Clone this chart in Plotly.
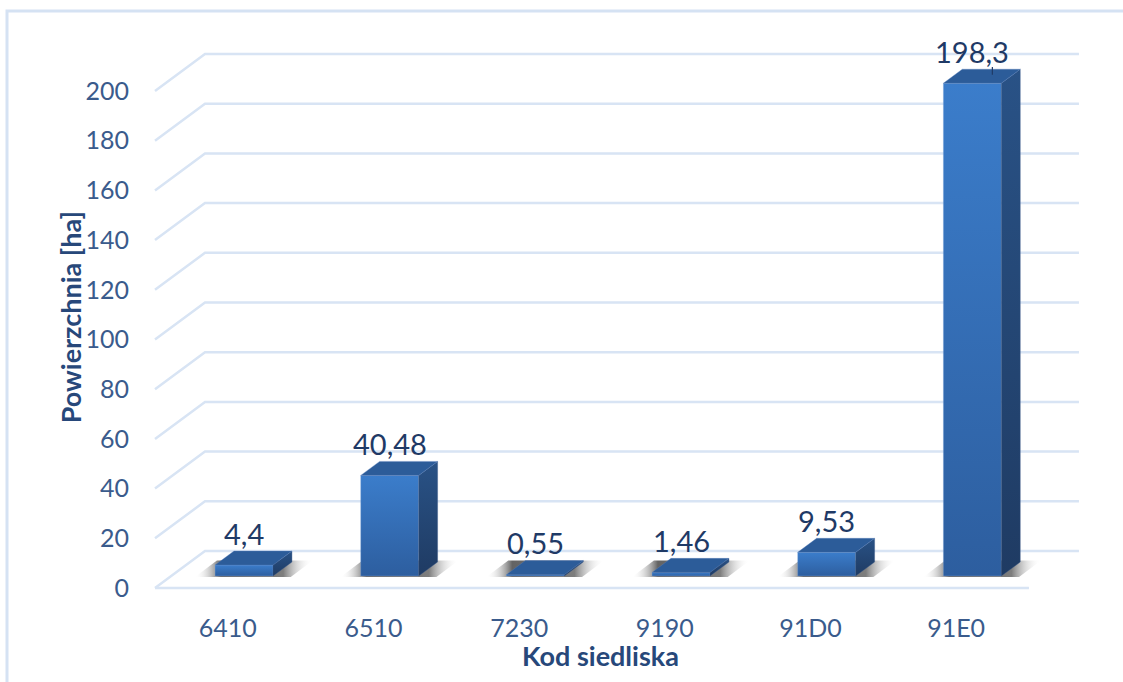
import plotly.graph_objects as go

# Habitat codes and their area in hectares
categories = ["6410", "6510", "7230", "9190", "91D0", "91E0"]
values = [4.4, 40.48, 0.55, 1.46, 9.53, 198.3]
value_labels = ["4,4", "40,48", "0,55", "1,46", "9,53", "198,3"]
y_ticks = [0, 20, 40, 60, 80, 100, 120, 140, 160, 180, 200]

# Oblique projection used for the pseudo-3D look (depth d in 0..1)
DX = 0.3432          # depth shift along x, in category units
DY = 14.89           # depth shift along y, in value units
HALF_W = 0.199       # half of the bar width
D_FRONT = 0.324      # depth of the bar front face
D_BACK = 0.703       # depth of the bar back face

GRID = "#d8e4f4"
FONT = "Lato"


def proj(c, v, d):
    return c + d * DX, v + d * DY


fig = go.Figure()

# Walls: side diagonals + back-wall gridlines, plus the front floor edge
gx, gy = [], []
for t in y_ticks:
    for c, v, d in [(-0.5, t, 0), (-0.5, t, 1), (len(categories) - 0.5, t, 1)]:
        px, py = proj(c, v, d)
        gx.append(px)
        gy.append(py)
    gx.append(None)
    gy.append(None)
for c in (-0.5, len(categories) - 0.5):
    px, py = proj(c, 0, 0)
    gx.append(px)
    gy.append(py)
fig.add_trace(go.Scatter(x=gx, y=gy, mode="lines", line=dict(color=GRID, width=2.5),
                         hoverinfo="skip", showlegend=False, cliponaxis=False))


def poly(points, **kw):
    xs, ys = zip(*[proj(*p) for p in points])
    xs = list(xs) + [xs[0]]
    ys = list(ys) + [ys[0]]
    fig.add_trace(go.Scatter(x=xs, y=ys, mode="lines", fill="toself",
                             hoverinfo="skip", showlegend=False, cliponaxis=False, **kw))


for i, v in enumerate(values):
    x0, x1 = i - HALF_W, i + HALF_W

    # soft floor shadow
    poly([(x0 - 0.13, 0, 0.30), (x1 + 0.13, 0, 0.30), (x1 + 0.13, 0, 0.74), (x0 - 0.13, 0, 0.74)],
         line=dict(width=0, color="rgba(0,0,0,0)"),
         fillgradient=dict(type="horizontal", colorscale=[
             [0.0, "rgba(255,255,255,0)"],
             [0.22, "rgba(60,60,60,0.8)"],
             [0.75, "rgba(70,70,70,0.7)"],
             [1.0, "rgba(255,255,255,0)"]]))

    edge = dict(width=0.6, color="rgba(140,175,220,0.55)")
    # front face
    poly([(x0, 0, D_FRONT), (x1, 0, D_FRONT), (x1, v, D_FRONT), (x0, v, D_FRONT)],
         line=edge,
         fillgradient=dict(type="vertical", colorscale=[[0, "#2d5e9f"], [1, "#3b7dcb"]]))
    # side face
    poly([(x1, 0, D_FRONT), (x1, 0, D_BACK), (x1, v, D_BACK), (x1, v, D_FRONT)],
         line=dict(width=0.6, color="rgba(60,90,140,0.6)"),
         fillgradient=dict(type="vertical", colorscale=[[0, "#1f3b63"], [1, "#295286"]]))
    # top face
    poly([(x0, v, D_FRONT), (x1, v, D_FRONT), (x1, v, D_BACK), (x0, v, D_BACK)],
         line=dict(width=0.6, color="rgba(90,130,190,0.6)"), fillcolor="#2c5c99")

# value labels above each bar
for i, (v, lab) in enumerate(zip(values, value_labels)):
    lx, ly = proj(i, v, D_BACK)
    cx, _ = proj(i, v, D_FRONT)
    fig.add_annotation(x=cx, y=ly, text=lab, showarrow=False, yanchor="middle",
                       yshift=18, font=dict(family=FONT, size=29, color="#1f3a66"))

# short leader line on the tallest bar's label
imax = values.index(max(values))
tx, ty = proj(imax + 0.06, values[imax], 0.55)
fig.add_trace(go.Scatter(x=[tx, tx], y=[ty, ty + 3.2], mode="lines",
                         line=dict(color="#1f3a66", width=1.2),
                         hoverinfo="skip", showlegend=False, cliponaxis=False))

# axis titles
fig.add_annotation(xref="paper", yref="paper", x=(52 - 140) / 950, y=0.504,
                   text="<b>Powierzchnia [ha]</b>", textangle=-90, showarrow=False,
                   font=dict(family=FONT, size=27, color="#27487a"))
fig.add_annotation(xref="paper", yref="paper", x=(600 - 140) / 950, y=(600 - 655) / 560,
                   text="<b>Kod siedliska</b>", showarrow=False, yanchor="middle",
                   font=dict(family=FONT, size=27, color="#27487a"))

# outer frame
fig.add_shape(type="rect", xref="paper", yref="paper",
              x0=(7 - 140) / 950, x1=(1140 - 140) / 950,
              y0=(600 - 700) / 560, y1=(600 - 11) / 560,
              line=dict(color="#d5e2f3", width=3), layer="below")

fig.update_layout(
    width=1123, height=682,
    margin=dict(l=140, r=33, t=40, b=82),
    paper_bgcolor="white", plot_bgcolor="white",
    showlegend=False,
    xaxis=dict(range=[-0.603, 5.919], tickvals=list(range(len(categories))),
               ticktext=categories, showgrid=False, zeroline=False, showline=False,
               ticks="", ticklabelstandoff=11,
               tickfont=dict(family=FONT, size=25, color="#3a5b8c")),
    yaxis=dict(range=[-4.829, 220.523], tickvals=y_ticks,
               ticktext=[str(t) for t in y_ticks],
               showgrid=False, zeroline=False, showline=False,
               ticks="", ticklabelstandoff=10,
               tickfont=dict(family=FONT, size=25, color="#3a5b8c")),
)

fig.write_html("out.html")
